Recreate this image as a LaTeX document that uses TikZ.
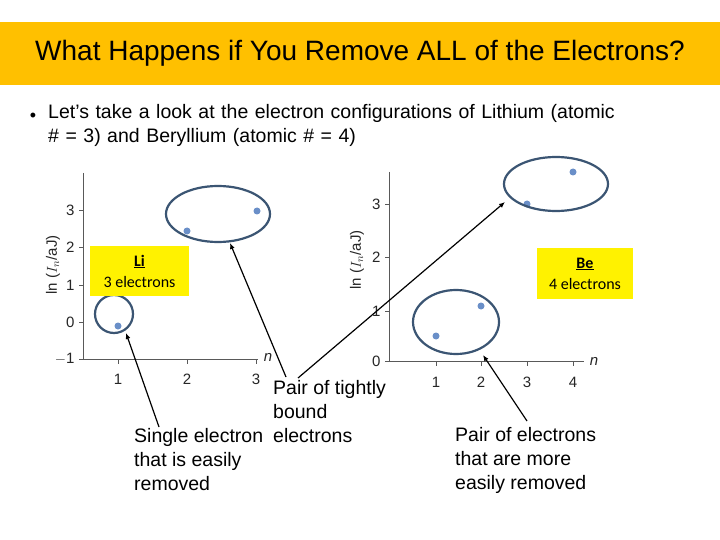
\documentclass[tikz,border=0pt]{standalone}
\usepackage{fontspec}
\setmainfont{Liberation Sans}
\newfontfamily\carlitofont{Carlito}
\usetikzlibrary{arrows.meta}
\definecolor{band}{HTML}{FFC000}
\definecolor{ring}{HTML}{3B5573}
\definecolor{dot}{HTML}{6A8FC8}
\tikzset{
 ring/.style={draw=ring,line width=2.2pt},
 pt/.style={fill=dot,circle,inner sep=0pt,minimum size=7pt},
 lbl/.style={font=\fontsize{19.5}{24}\selectfont,align=left,anchor=north west,inner sep=0pt},
 ybox/.style={fill=yellow,font=\carlitofont\fontsize{16}{21}\selectfont,align=center,inner sep=0pt},
 ax/.style={gray!70!black,line width=0.8pt},
 tk/.style={font=\fontsize{15}{16}\selectfont,text=gray!30!black},
 arr/.style={line width=1.2pt,-{Latex[length=6pt,width=5pt]}}
}
\begin{document}
\begin{tikzpicture}[x=1pt,y=-1pt]
\useasboundingbox (0,0) rectangle (720,540);
\fill[white] (0,0) rectangle (720,540);
\fill[band] (0,22) rectangle (720,85);
\node[font=\fontsize{28}{30}\selectfont] (title) at (360,53) {What Happens if You Remove ALL of the Electrons?};
\node[font=\fontsize{18}{20}\selectfont] (bul) at (33,117) {•};
\node[lbl,text width=640pt,font=\fontsize{19.5}{24}\selectfont] (intro) at (48,104) {Let’s take a look at the electron configurations of Lithium (atomic\\ \# = 3) and Beryllium (atomic \# = 4)};
% left graph
\draw[ax] (83,173) -- (83,359) -- (258,359);
\foreach \v/\y in {3/210,2/247,1/285,0/322,{$-$1}/359}{\draw[ax] (83,\y) -- (79,\y); \node[tk,anchor=east] at (78,\y) {\v};}
\foreach \v/\x in {1/118,2/187,3/256}{\draw[ax] (\x,359) -- (\x,364); \node[tk] at (\x,379) {\v};}
\node[tk] (ln1) at (268,357) {\itshape n};
\node[tk,rotate=90] (yl1) at (53,265) {ln ($I_n$/aJ)};
\node[pt] (a1) at (118,326) {};
\node[pt] (a2) at (187,231) {};
\node[pt] (a3) at (257,211) {};
\draw[ring] (218,214) ellipse [x radius=52,y radius=28];
\draw[ring] (114,314) circle [radius=19];
\coordinate (e1) at (230,243);
\coordinate (c1) at (126,333);
\node[ybox,minimum width=99pt,minimum height=50pt] (li) at (139.5,271) {\underline{\textbf{Li}}\\3 electrons};
% right graph
\draw[ax] (389,172) -- (389,361) -- (584,361);
\foreach \v/\y in {3/204,2/257,1/311,0/361}{\draw[ax] (389,\y) -- (385,\y); \node[tk,anchor=east] at (384,\y) {\v};}
\foreach \v/\x in {1/436,2/481,3/527,4/573}{\draw[ax] (\x,361) -- (\x,366); \node[tk] at (\x,382) {\v};}
\node[tk] (ln2) at (594,361) {\itshape n};
\node[tk,rotate=90] (yl2) at (357,260) {ln ($I_n$/aJ)};
\node[pt] (b1) at (436,336) {};
\node[pt] (b2) at (481,306) {};
\node[pt] (b3) at (527,204) {};
\node[pt] (b4) at (573,172) {};
\draw[ring] (456,322) ellipse [x radius=43,y radius=32];
\draw[ring] (556,184) ellipse [x radius=52,y radius=27];
\coordinate (e2) at (505,202);
\coordinate (e3) at (483,355);
\node[ybox,minimum width=96pt,minimum height=51pt] (be) at (585,273.5) {\underline{\textbf{Be}}\\4 electrons};
% labels
\node[lbl] (t1) at (273,380) {Pair of tightly\\bound\\electrons};
\node[lbl] (t2) at (134,428) {Single electron\\that is easily\\removed};
\node[lbl] (t3) at (455,427) {Pair of electrons\\that are more\\easily removed};
\coordinate (s1) at (286,377);
\coordinate (s2) at (298,378);
\coordinate (s3) at (159,427);
\coordinate (s4) at (527,421);
\draw[arr] (s1) -- (e1);
\draw[arr] (s2) -- (e2);
\draw[arr] (s3) -- (c1);
\draw[arr] (s4) -- (e3);
\end{tikzpicture}
\end{document}
